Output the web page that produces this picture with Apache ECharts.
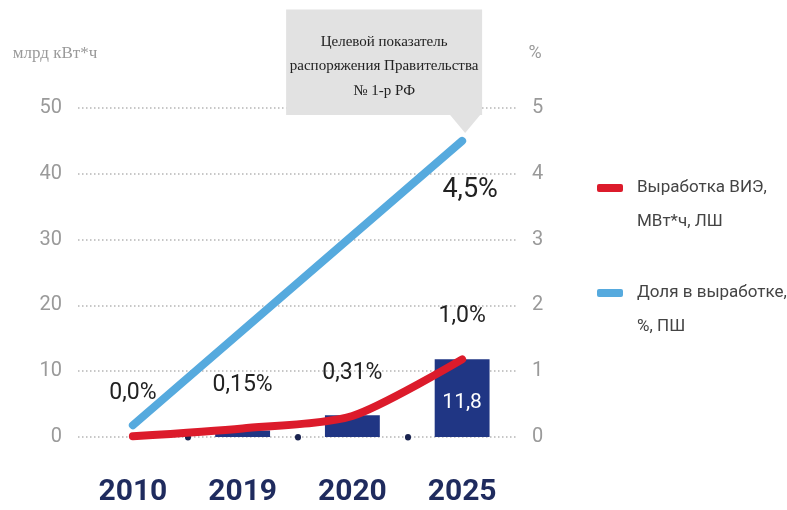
<!DOCTYPE html>
<html><head><meta charset="utf-8">
<script src="https://cdn.jsdelivr.net/npm/echarts@6/dist/echarts.min.js"></script>
<style>html,body{margin:0;padding:0;background:#fff}#c{width:787px;height:510px}</style>
</head><body><div id="c"></div>
<script>
// ---- data ----
const years = ['2010', '2019', '2020', '2025'];
const barValues = [null, 1.0, 3.3, 11.8];          // млрд кВт*ч (bars)
const genValues = [0.1, 1.3, 3.2, 11.8];           // Выработка ВИЭ, left axis
const shareValues = [0.18, null, null, 4.5];       // Доля в выработке, right axis
const shareLabels = [0.0, 0.15, 0.31, 1.0];        // actual shares, %
const separators = [1, 2, 3];                      // boundaries between year bands
const leftAxisRange = { min: 0, max: 50, step: 10 };
const rightAxisRange = { min: 0, max: 5, step: 1 };
const seriesNames = ['Выработка ВИЭ, МВт*ч, ЛШ', 'Доля в выработке, %, ПШ'];
const calloutLines = ['Целевой показатель', 'распоряжения Правительства', '№ 1-р РФ'];
const leftAxisName = 'млрд кВт*ч';
const rightAxisName = '%';

// ---- styling ----
const RED = '#dc1b2b', BLUE = '#56aade', NAVY = '#203684', GRAY = '#9a9a9a';
const SANS = 'Roboto, "DejaVu Sans Condensed", sans-serif';
const SERIF = '"Liberation Serif", "DejaVu Serif", serif';
const fmt = v => (Number.isInteger(Math.round(v * 1000) / 100) ? v.toFixed(1) : String(v)).replace('.', ',');

const chart = echarts.init(document.getElementById('c'), null, { renderer: 'canvas' });
chart.setOption({
  animation: false,
  backgroundColor: '#fff',
  color: [RED, BLUE, NAVY],
  grid: { left: 78, right: 270, top: 108, bottom: 73 },
  legend: {
    data: seriesNames,
    orient: 'vertical',
    left: 597, top: 137, padding: 0,
    itemWidth: 26, itemHeight: 8, itemGap: 3,
    icon: 'roundRect',
    formatter: n => ' \n' + n.replace(', ', ',\n'),
    textStyle: { fontFamily: SANS, fontSize: 17, color: '#444', lineHeight: 34, padding: [0, 0, 0, 9] }
  },
  xAxis: [{
    type: 'category', data: years,
    axisLine: { show: false }, axisTick: { show: false },
    axisLabel: { margin: 40, fontFamily: SANS, fontWeight: 'bold', fontSize: 30, color: '#1f2b5e' }
  }, {
    type: 'value', min: 0, max: years.length, position: 'bottom',
    axisLine: { show: false }, axisLabel: { show: false }, splitLine: { show: false },
    axisTick: { show: true, customValues: separators, length: 0.5, lineStyle: { width: 6, cap: 'round', color: '#1a2450' } }
  }],
  yAxis: [{
    type: 'value', min: leftAxisRange.min, max: leftAxisRange.max, interval: leftAxisRange.step,
    name: leftAxisName, nameLocation: 'end', nameGap: 46,
    nameTextStyle: { fontFamily: SERIF, fontSize: 17, color: GRAY, align: 'center', padding: [0, 46, 0, 0] },
    axisLine: { show: false }, axisTick: { show: false },
    axisLabel: { margin: 16, fontFamily: SANS, fontSize: 20, color: GRAY },
    splitLine: { show: true, lineStyle: { type: [1.5, 2.5], width: 1.5, color: '#b5b5b5' } }
  }, {
    type: 'value', min: rightAxisRange.min, max: rightAxisRange.max, interval: rightAxisRange.step,
    position: 'right',
    name: rightAxisName, nameLocation: 'end', nameGap: 46,
    nameTextStyle: { fontFamily: SANS, fontSize: 18, color: GRAY, align: 'center', padding: [0, 0, 0, 36] },
    axisLine: { show: false }, axisTick: { show: false },
    axisLabel: { margin: 15, fontFamily: SANS, fontSize: 20, color: GRAY },
    splitLine: { show: false }
  }],
  series: [{
    name: 'bars', type: 'bar', data: barValues, barWidth: '50%', yAxisIndex: 0, xAxisIndex: 0,
    itemStyle: { color: NAVY },
    label: {
      show: true, position: 'inside', offset: [0, 5], fontFamily: SANS, fontSize: 21, color: '#fff',
      formatter: p => (p.value === Math.max(...barValues.filter(v => v != null)) ? fmt(p.value) : '')
    },
    z: 1
  }, {
    name: seriesNames[0], type: 'line', data: genValues, yAxisIndex: 0, xAxisIndex: 0,
    smooth: 0.25, symbol: 'circle', symbolSize: 1,
    itemStyle: { color: RED },
    lineStyle: { color: RED, width: 8, cap: 'round', join: 'round' },
    label: {
      show: true, position: 'top', distance: 31, fontFamily: SANS, fontSize: 23, color: '#222',
      formatter: p => fmt(shareLabels[p.dataIndex]) + '%'
    },
    z: 3
  }, {
    name: seriesNames[1], type: 'line', data: shareValues, yAxisIndex: 1, xAxisIndex: 0,
    connectNulls: true, symbol: 'circle', symbolSize: 1,
    itemStyle: { color: BLUE },
    lineStyle: { color: BLUE, width: 8, cap: 'round' },
    label: {
      show: true, position: 'bottom', distance: 35, offset: [8, 0], fontFamily: SANS, fontSize: 27, color: '#222',
      formatter: p => (p.dataIndex === shareValues.length - 1 ? fmt(p.value) + '%' : '')
    },
    markPoint: {
      silent: true,
      symbol: 'path://M0,0L30,0L15,18Z', symbolSize: [30, 18], symbolOffset: [3, -17],
      itemStyle: { color: '#e2e2e2' },
      data: [{ type: 'max' }],
      label: {
        show: true, position: 'top', distance: 0, offset: [-81, 0],
        formatter: () => calloutLines.join('\n'),
        backgroundColor: '#e2e2e2', color: '#222', fontFamily: SERIF, fontSize: 15,
        lineHeight: 24.5, width: 180, align: 'center', padding: [20, 8, 12, 8]
      }
    },
    z: 4
  }]
});
</script></body></html>
